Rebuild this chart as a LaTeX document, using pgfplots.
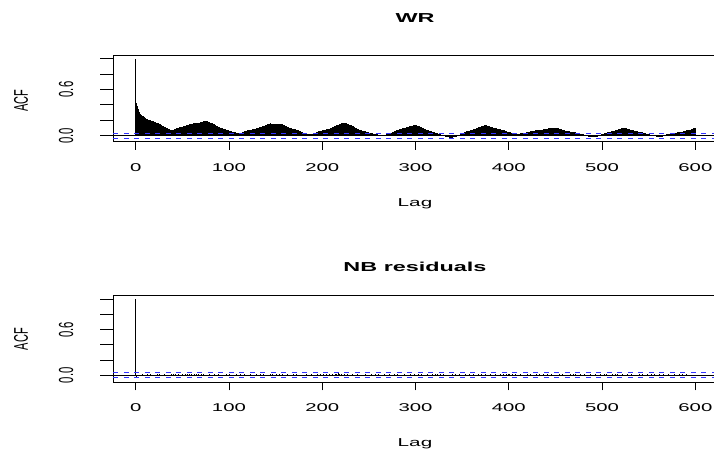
\documentclass[border=0pt]{standalone}
\usepackage{graphicx}
\usepackage{pgfplots}
\pgfplotsset{compat=1.18}
\usepackage{pgfplotstable}
\usepackage{fontspec}
\setmainfont{Liberation Sans}

% rotated label, stretched across the page like the reference
\newcommand\rlab[1]{\scalebox{1.8}[1]{\rotatebox{90}{#1}}}

% ACF of WR, lags 0..600
\pgfplotstableread[row sep=\\, header=false]{
1.000\\0.430\\0.381\\0.342\\0.309\\0.288\\0.272\\0.259\\0.251\\0.238\\
0.232\\0.226\\0.219\\0.214\\0.209\\0.203\\0.201\\0.194\\0.190\\0.186\\
0.179\\0.176\\0.171\\0.166\\0.160\\0.157\\0.151\\0.146\\0.139\\0.132\\
0.126\\0.118\\0.112\\0.104\\0.098\\0.088\\0.084\\0.079\\0.074\\0.071\\
0.066\\0.072\\0.081\\0.088\\0.094\\0.099\\0.103\\0.108\\0.111\\0.116\\
0.118\\0.122\\0.126\\0.128\\0.133\\0.136\\0.141\\0.143\\0.147\\0.152\\
0.156\\0.154\\0.159\\0.162\\0.160\\0.166\\0.168\\0.165\\0.171\\0.173\\
0.176\\0.179\\0.184\\0.188\\0.192\\0.196\\0.190\\0.186\\0.181\\0.176\\
0.171\\0.166\\0.160\\0.154\\0.147\\0.141\\0.135\\0.129\\0.122\\0.116\\
0.111\\0.106\\0.101\\0.095\\0.091\\0.086\\0.081\\0.078\\0.073\\0.069\\
0.066\\0.062\\0.058\\0.055\\0.052\\0.049\\0.046\\0.043\\0.040\\0.038\\
0.035\\0.033\\0.031\\0.030\\0.038\\0.046\\0.053\\0.060\\0.063\\0.066\\
0.070\\0.073\\0.076\\0.078\\0.080\\0.083\\0.085\\0.088\\0.091\\0.094\\
0.098\\0.102\\0.106\\0.110\\0.114\\0.118\\0.122\\0.126\\0.131\\0.136\\
0.141\\0.146\\0.150\\0.155\\0.158\\0.161\\0.158\\0.155\\0.153\\0.150\\
0.151\\0.153\\0.149\\0.152\\0.150\\0.149\\0.147\\0.148\\0.145\\0.142\\
0.138\\0.131\\0.124\\0.117\\0.111\\0.105\\0.101\\0.097\\0.092\\0.088\\
0.085\\0.081\\0.077\\0.073\\0.069\\0.065\\0.060\\0.055\\0.050\\0.045\\
0.041\\0.037\\0.034\\0.030\\0.027\\0.025\\0.023\\0.021\\0.020\\0.022\\
0.026\\0.031\\0.035\\0.040\\0.045\\0.050\\0.055\\0.060\\0.063\\0.066\\
0.070\\0.073\\0.075\\0.078\\0.080\\0.083\\0.085\\0.088\\0.090\\0.096\\
0.103\\0.109\\0.115\\0.121\\0.127\\0.133\\0.139\\0.143\\0.150\\0.154\\
0.157\\0.161\\0.164\\0.167\\0.170\\0.166\\0.161\\0.155\\0.150\\0.145\\
0.140\\0.133\\0.127\\0.120\\0.113\\0.107\\0.100\\0.095\\0.090\\0.085\\
0.080\\0.075\\0.070\\0.067\\0.063\\0.060\\0.057\\0.053\\0.050\\0.047\\
0.043\\0.040\\0.037\\0.033\\0.030\\0.027\\0.025\\0.022\\0.019\\0.017\\
0.015\\0.013\\0.011\\0.009\\0.007\\0.005\\0.008\\0.011\\0.014\\0.017\\
0.020\\0.025\\0.030\\0.035\\0.040\\0.045\\0.050\\0.055\\0.060\\0.065\\
0.070\\0.074\\0.078\\0.082\\0.086\\0.090\\0.094\\0.098\\0.102\\0.106\\
0.110\\0.113\\0.116\\0.119\\0.122\\0.125\\0.128\\0.131\\0.134\\0.137\\
0.140\\0.135\\0.130\\0.125\\0.120\\0.115\\0.110\\0.105\\0.100\\0.095\\
0.090\\0.085\\0.080\\0.075\\0.070\\0.065\\0.061\\0.057\\0.053\\0.049\\
0.045\\0.041\\0.037\\0.033\\0.029\\0.025\\0.021\\0.017\\0.013\\0.009\\
0.005\\0.000\\-0.005\\-0.010\\-0.015\\-0.020\\-0.025\\-0.030\\-0.035\\-0.030\\
-0.025\\-0.020\\-0.015\\-0.010\\-0.005\\0.000\\0.005\\0.012\\0.020\\0.027\\
0.035\\0.039\\0.043\\0.047\\0.051\\0.055\\0.059\\0.063\\0.067\\0.071\\
0.075\\0.079\\0.083\\0.087\\0.091\\0.095\\0.099\\0.103\\0.107\\0.111\\
0.115\\0.120\\0.125\\0.130\\0.135\\0.140\\0.135\\0.130\\0.125\\0.120\\
0.115\\0.112\\0.109\\0.106\\0.103\\0.100\\0.097\\0.094\\0.091\\0.088\\
0.085\\0.082\\0.079\\0.076\\0.073\\0.070\\0.066\\0.062\\0.058\\0.054\\
0.050\\0.047\\0.044\\0.041\\0.038\\0.035\\0.031\\0.027\\0.024\\0.020\\
0.022\\0.025\\0.027\\0.030\\0.032\\0.034\\0.036\\0.038\\0.040\\0.043\\
0.046\\0.049\\0.052\\0.055\\0.057\\0.059\\0.061\\0.063\\0.065\\0.068\\
0.070\\0.072\\0.073\\0.075\\0.077\\0.078\\0.080\\0.082\\0.084\\0.086\\
0.088\\0.090\\0.092\\0.094\\0.096\\0.098\\0.100\\0.101\\0.102\\0.104\\
0.105\\0.102\\0.099\\0.096\\0.093\\0.090\\0.086\\0.082\\0.078\\0.074\\
0.070\\0.067\\0.064\\0.061\\0.058\\0.055\\0.053\\0.051\\0.049\\0.047\\
0.045\\0.042\\0.040\\0.037\\0.035\\0.032\\0.030\\0.027\\0.023\\0.020\\
0.017\\0.013\\0.010\\0.007\\0.005\\0.002\\0.000\\-0.002\\-0.005\\-0.007\\
-0.009\\-0.011\\-0.012\\-0.008\\-0.003\\0.001\\0.005\\0.009\\0.013\\0.017\\
0.020\\0.024\\0.028\\0.032\\0.036\\0.040\\0.043\\0.046\\0.049\\0.052\\
0.055\\0.058\\0.062\\0.065\\0.069\\0.073\\0.075\\0.079\\0.083\\0.086\\
0.090\\0.094\\0.098\\0.101\\0.105\\0.100\\0.095\\0.090\\0.085\\0.082\\
0.080\\0.077\\0.075\\0.072\\0.069\\0.066\\0.063\\0.060\\0.057\\0.054\\
0.051\\0.048\\0.045\\0.042\\0.039\\0.036\\0.033\\0.030\\0.027\\0.024\\
0.021\\0.018\\0.015\\0.012\\0.009\\0.006\\0.003\\0.000\\-0.003\\-0.006\\
-0.009\\-0.012\\-0.015\\-0.010\\-0.005\\0.001\\0.005\\0.009\\0.013\\0.017\\
0.020\\0.022\\0.024\\0.026\\0.028\\0.030\\0.032\\0.034\\0.036\\0.038\\
0.040\\0.042\\0.044\\0.046\\0.048\\0.050\\0.053\\0.056\\0.059\\0.062\\
0.065\\0.068\\0.071\\0.074\\0.077\\0.080\\0.085\\0.090\\0.095\\0.100\\
0.105\\
}\wracf

% ACF of NB residuals, lags 0..600
\pgfplotstableread[row sep=\\, header=false]{
1.000\\
-0.018\\0.006\\-0.011\\0.004\\0.009\\-0.006\\0.013\\-0.003\\0.002\\-0.009\\
0.007\\-0.014\\0.011\\0.003\\-0.007\\0.016\\-0.002\\0.008\\-0.012\\0.005\\
0.010\\-0.004\\0.014\\-0.009\\0.002\\0.012\\-0.006\\0.007\\-0.013\\0.004\\
0.015\\-0.003\\0.009\\-0.011\\0.006\\0.001\\-0.008\\0.013\\0.004\\-0.005\\
0.011\\-0.010\\0.017\\0.003\\-0.006\\0.012\\-0.002\\0.008\\-0.009\\0.014\\
0.006\\-0.004\\0.019\\0.010\\-0.007\\0.021\\0.005\\0.013\\-0.003\\0.016\\
0.009\\-0.008\\0.018\\0.004\\0.011\\-0.005\\0.015\\0.002\\-0.010\\0.012\\
0.007\\-0.006\\0.013\\0.003\\-0.011\\0.010\\0.005\\-0.004\\0.014\\-0.002\\
0.008\\-0.012\\0.006\\0.011\\-0.003\\0.009\\-0.007\\0.004\\0.012\\-0.009\\
0.003\\0.010\\-0.005\\0.007\\-0.013\\0.005\\0.011\\-0.002\\0.006\\-0.008\\
0.012\\-0.006\\0.004\\-0.015\\0.009\\0.002\\-0.010\\0.013\\-0.004\\0.007\\
-0.009\\0.011\\0.003\\-0.012\\0.008\\-0.005\\0.014\\0.001\\-0.007\\0.010\\
0.005\\-0.011\\0.012\\-0.003\\0.007\\-0.014\\0.009\\0.004\\-0.006\\0.013\\
-0.002\\0.008\\-0.010\\0.015\\0.003\\-0.007\\0.011\\-0.004\\0.006\\-0.012\\
0.010\\0.002\\-0.008\\0.014\\-0.005\\0.009\\0.012\\-0.003\\0.007\\-0.010\\
0.013\\-0.006\\0.004\\0.011\\-0.009\\0.006\\0.015\\-0.002\\0.008\\-0.011\\
0.009\\-0.004\\0.012\\-0.013\\0.005\\0.010\\-0.007\\0.003\\0.014\\-0.005\\
0.006\\0.011\\-0.009\\0.004\\-0.012\\0.008\\0.002\\-0.006\\0.010\\-0.014\\
0.007\\-0.003\\0.013\\-0.008\\0.005\\0.009\\-0.011\\0.012\\-0.002\\0.006\\
-0.010\\0.008\\0.003\\-0.005\\0.011\\-0.013\\0.007\\0.014\\-0.004\\0.009\\
0.012\\-0.007\\0.005\\0.016\\-0.003\\0.010\\-0.009\\0.013\\0.002\\-0.006\\
0.018\\0.008\\-0.005\\0.022\\0.011\\-0.004\\0.025\\0.014\\0.006\\-0.008\\
0.019\\0.009\\-0.006\\0.015\\0.004\\-0.010\\0.012\\0.007\\-0.003\\0.010\\
-0.008\\0.011\\0.004\\-0.012\\0.009\\0.002\\-0.007\\0.013\\-0.004\\0.006\\
0.010\\-0.011\\0.005\\0.008\\-0.006\\0.014\\-0.002\\0.007\\-0.013\\0.004\\
0.009\\-0.005\\0.012\\0.003\\-0.010\\0.006\\0.011\\-0.008\\0.002\\0.013\\
-0.004\\0.007\\-0.012\\0.010\\0.005\\-0.007\\0.014\\-0.003\\0.008\\-0.011\\
0.006\\0.012\\-0.005\\0.009\\-0.014\\0.004\\0.011\\-0.002\\0.007\\-0.009\\
0.013\\-0.006\\0.003\\0.010\\-0.011\\0.008\\-0.004\\0.015\\0.001\\-0.008\\
0.010\\-0.003\\0.007\\-0.012\\0.012\\0.005\\-0.009\\0.006\\0.013\\-0.005\\
0.004\\-0.010\\0.011\\0.002\\-0.007\\0.014\\-0.004\\0.008\\-0.013\\0.009\\
0.006\\-0.002\\0.012\\-0.009\\0.005\\0.010\\-0.006\\0.013\\0.003\\-0.011\\
0.016\\0.007\\-0.004\\0.018\\0.009\\-0.007\\0.014\\0.004\\-0.010\\0.011\\
-0.005\\0.009\\0.003\\-0.012\\0.010\\-0.003\\0.007\\-0.014\\0.006\\0.012\\
-0.008\\0.005\\0.011\\-0.004\\0.009\\-0.011\\0.013\\0.002\\-0.006\\0.008\\
0.010\\-0.007\\0.004\\0.012\\-0.010\\0.006\\-0.003\\0.014\\0.005\\-0.009\\
0.007\\0.013\\-0.005\\0.010\\-0.012\\0.003\\0.011\\-0.006\\0.008\\-0.002\\
0.012\\-0.009\\0.006\\-0.004\\0.015\\0.002\\-0.010\\0.009\\-0.005\\0.011\\
0.004\\-0.013\\0.010\\0.006\\-0.007\\0.013\\-0.003\\0.008\\0.001\\-0.011\\
0.017\\0.008\\-0.006\\0.019\\0.010\\-0.004\\0.016\\0.006\\-0.009\\0.012\\
0.014\\0.005\\-0.007\\0.018\\0.009\\-0.003\\0.012\\-0.008\\0.006\\0.010\\
-0.004\\0.011\\-0.010\\0.007\\0.003\\-0.013\\0.009\\0.005\\-0.006\\0.012\\
0.008\\-0.003\\0.014\\-0.009\\0.006\\0.010\\-0.005\\0.004\\-0.012\\0.011\\
0.005\\-0.008\\0.013\\0.002\\-0.011\\0.007\\0.012\\-0.004\\0.009\\-0.006\\
0.011\\-0.010\\0.006\\0.003\\-0.007\\0.014\\-0.002\\0.010\\-0.013\\0.005\\
0.009\\0.004\\-0.011\\0.012\\-0.005\\0.007\\-0.009\\0.013\\0.002\\-0.006\\
0.010\\-0.004\\0.008\\-0.012\\0.006\\0.011\\-0.007\\0.003\\0.014\\-0.008\\
0.005\\0.012\\-0.006\\0.009\\-0.010\\0.004\\0.013\\-0.003\\0.007\\-0.011\\
0.012\\-0.005\\0.003\\0.010\\-0.013\\0.008\\-0.002\\0.011\\0.006\\-0.009\\
0.007\\-0.011\\0.014\\0.004\\-0.006\\0.010\\-0.008\\0.012\\-0.003\\0.005\\
0.009\\-0.007\\0.011\\-0.004\\0.013\\0.002\\-0.010\\0.008\\0.005\\-0.012\\
0.014\\0.006\\-0.005\\0.016\\0.008\\-0.009\\0.012\\0.003\\-0.006\\0.010\\
-0.003\\0.012\\-0.011\\0.007\\0.004\\-0.008\\0.013\\-0.005\\0.009\\0.002\\
-0.010\\0.011\\0.006\\-0.004\\0.008\\-0.012\\0.010\\0.003\\-0.007\\0.014\\
0.005\\-0.009\\0.012\\-0.003\\0.007\\0.010\\-0.011\\0.004\\0.013\\-0.006\\
0.008\\-0.002\\0.011\\-0.010\\0.006\\0.012\\-0.005\\0.009\\-0.013\\0.007\\
0.013\\0.004\\-0.008\\0.010\\-0.004\\0.014\\0.003\\-0.011\\0.008\\-0.006\\
0.011\\-0.003\\0.007\\-0.012\\0.009\\0.005\\-0.007\\0.012\\-0.004\\0.010\\
0.006\\-0.010\\0.013\\0.002\\-0.005\\0.011\\-0.009\\0.008\\0.004\\-0.007\\
0.012\\-0.004\\0.009\\-0.011\\0.007\\0.003\\-0.006\\0.010\\-0.002\\0.008\\
}\nbacf

\pgfplotsset{
  acfpanel/.style={
    scale only axis, width=600.7pt, anchor=south west,
    xmin=-24, xmax=620,
    xtick={0,100,200,300,400,500,600},
    ytick={0,0.2,0.4,0.6,0.8,1},
    yticklabels={\rlab{0.0},,,\rlab{0.6},,},
    xtick pos=bottom, ytick pos=left,
    tick align=outside, major tick length=8.3pt,
    axis line style={line width=0.9pt},
    every tick/.style={black, line width=0.9pt},
    ytick style={draw=none},
    /pgf/number format/assume math mode=true,
    ticklabel style={font=\fontsize{11.3}{13}\selectfont},
    xticklabel style={yshift=-21.5pt, xscale=1.8, anchor=base},
    yticklabel style={anchor=east, inner sep=0pt, xshift=-31.6pt},
    clip=false,
  },
  bars/.style={ycomb, black, line width=0.95pt, mark=none},
  ciline/.style={blue!80, line width=1.1pt, dash pattern=on 5pt off 5.5pt},
}

\begin{document}
\begin{tikzpicture}[x=1pt, y=1pt]
\useasboundingbox (0pt,0pt) rectangle (714pt,453pt);

% top panel: WR
\begin{axis}[acfpanel, at={(113.3pt,311.3pt)}, height=86pt, ymin=-0.078, ymax=1.039]
\addplot[bars] table[x expr=\coordindex, y index=0] {\wracf};
\addplot[black, line width=0.6pt] coordinates {(-24,0) (620,0)};
\addplot[ciline] coordinates {(-24,0.031) (620,0.031)};
\addplot[ciline] coordinates {(-24,-0.031) (620,-0.031)};
\pgfplotsinvokeforeach{0,0.2,0.4,0.6,0.8,1}{
  \draw[line width=0.9pt] (axis cs:-24,#1) -- ++(-13.3pt,0pt);
}
\end{axis}

% bottom panel: NB residuals
\begin{axis}[acfpanel, at={(113.3pt,71pt)}, height=86.3pt, ymin=-0.088, ymax=1.047]
\addplot[bars] table[x expr=\coordindex, y index=0] {\nbacf};
\addplot[black, line width=0.6pt] coordinates {(-24,0) (620,0)};
\addplot[ciline] coordinates {(-24,0.033) (620,0.033)};
\addplot[ciline] coordinates {(-24,-0.033) (620,-0.033)};
\pgfplotsinvokeforeach{0,0.2,0.4,0.6,0.8,1}{
  \draw[line width=0.9pt] (axis cs:-24,#1) -- ++(-13.3pt,0pt);
}
\end{axis}

% titles and axis labels
\node[anchor=base, xscale=1.8, font=\fontsize{13}{15}\selectfont\bfseries] at (415pt,430.3pt) {WR};
\node[anchor=base, xscale=1.8, font=\fontsize{13}{15}\selectfont\bfseries] at (415pt,181.3pt) {NB residuals};
\node[anchor=base, xscale=1.8, font=\fontsize{11.5}{14}\selectfont] at (415pt,246.3pt) {Lag};
\node[anchor=base, xscale=1.8, font=\fontsize{11.5}{14}\selectfont] at (415pt,6.3pt) {Lag};
\node[anchor=east, inner sep=0pt, font=\fontsize{11}{13}\selectfont] at (28.3pt,352.2pt) {\rlab{ACF}};
\node[anchor=east, inner sep=0pt, font=\fontsize{11}{13}\selectfont] at (28.3pt,113.8pt) {\rlab{ACF}};
\end{tikzpicture}
\end{document}
